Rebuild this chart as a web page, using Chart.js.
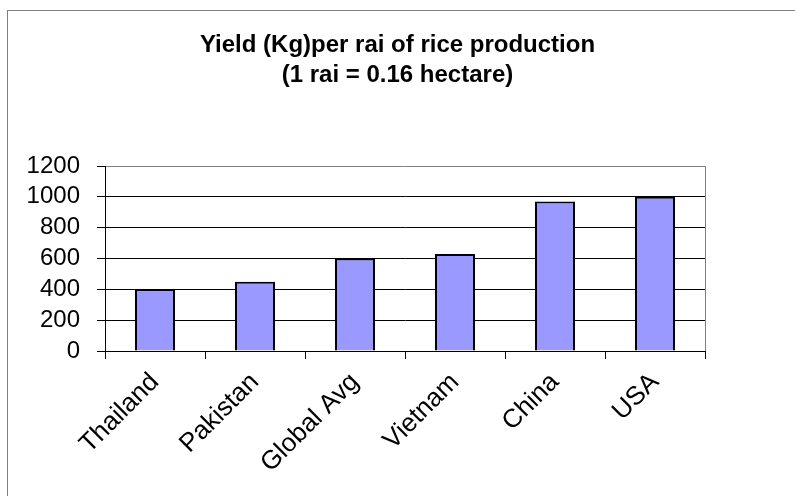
<!DOCTYPE html>
<html>
<head>
<meta charset="utf-8">
<script src="https://cdn.jsdelivr.net/npm/chart.js@4"></script>
<style>
  html, body { margin: 0; padding: 0; background: #fff; }
  #wrap { width: 795px; height: 496px; }
</style>
</head>
<body>
<div id="wrap"><canvas id="chart" width="795" height="496"></canvas></div>
<script>
// data
const countries = ['Thailand', 'Pakistan', 'Global Avg', 'Vietnam', 'China', 'USA'];
const yieldKg = [400, 450, 600, 630, 970, 1000];
const titleLines = ['Yield (Kg)per rai of rice production', '(1 rai = 0.16 hectare)'];

const FONT = "'Liberation Sans', Arial, sans-serif";

// grey frame round the whole chart (only top and left edges are in view)
const outerFrame = {
    id: 'outerFrame',
    beforeDraw(chart) {
        const c = chart.ctx;
        c.save();
        c.fillStyle = '#fff';
        c.fillRect(0, 0, chart.width, chart.height);
        c.strokeStyle = '#808080';
        c.lineWidth = 1;
        c.strokeRect(7.5, 10.5, 820, 520);
        c.restore();
    }
};

const ctx = document.getElementById('chart').getContext('2d');
new Chart(ctx, {
    type: 'bar',
    data: {
        labels: countries,
        datasets: [{
            label: 'Yield',
            data: yieldKg,
            yAxisID: 'y',
            backgroundColor: '#9999FF',
            borderColor: '#000',
            borderWidth: 2,
            barPercentage: 0.4,
            categoryPercentage: 1
        }]
    },
    options: {
        responsive: false,
        animation: false,
        layout: { padding: 0 },
        plugins: {
            legend: { display: false },
            tooltip: { enabled: false },
            title: {
                display: true,
                text: titleLines,
                color: '#000',
                font: { family: FONT, size: 24, weight: 'bold', lineHeight: 1.25 },
                padding: { top: 30, bottom: 76 }
            }
        },
        scales: {
            x: {
                offset: true,
                border: { display: true, color: '#000', width: 1 },
                grid: {
                    offset: true,
                    color: (c) => c.tick ? 'rgba(0,0,0,0)' : '#808080',
                    tickColor: '#000',
                    tickLength: 8,
                    lineWidth: 1
                },
                ticks: {
                    color: '#000',
                    font: { family: FONT, size: 26 },
                    minRotation: 45,
                    maxRotation: 45,
                    autoSkip: false,
                    padding: 8
                },
                afterFit(scale) { scale.height = 145; }
            },
            y: {
                position: 'left',
                min: 0,
                max: 1200,
                border: { display: true, color: '#000', width: 1 },
                grid: {
                    color: (c) => (c.tick && c.tick.value === 1200) ? '#808080' : '#000',
                    tickColor: '#000',
                    tickLength: 8,
                    lineWidth: 1
                },
                ticks: {
                    stepSize: 200,
                    autoSkip: false,
                    color: '#000',
                    font: { family: FONT, size: 24 },
                    padding: 17,
                    callback: (v) => String(v)
                },
                afterFit(scale) { scale.width = 105; }
            },
            // empty right-hand box so the plot stops at x = 705 while the title stays centred
            yRight: {
                position: 'right',
                display: true,
                border: { display: false },
                grid: { display: false, drawTicks: false },
                ticks: { display: false },
                afterFit(scale) { scale.width = 90; }
            }
        }
    },
    plugins: [outerFrame]
});
</script>
</body>
</html>
